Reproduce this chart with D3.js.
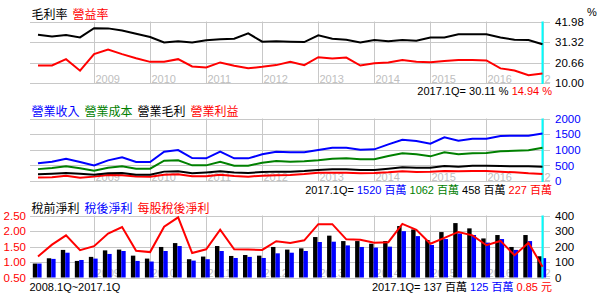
<!DOCTYPE html>
<html>
<head>
<meta charset="utf-8">
<script src="https://cdn.jsdelivr.net/npm/d3@7"></script>
<style>
  body { margin: 0; background: #fff; }
  svg text { font-family: "Liberation Sans", "Noto Sans CJK TC", sans-serif; }
</style>
</head>
<body>
<div id="chart"></div>
<script>
// quarters 2008.1Q ~ 2017.1Q
const years = [2008, 2009, 2010, 2011, 2012, 2013, 2014, 2015, 2016, 2017];
const quarters = years.flatMap((y) => [1, 2, 3, 4].map((q) => y + "." + q + "Q")).slice(0, 37);

// 毛利率 / 營益率 (%)
const grossMargin = [35.1, 34.2, 34.9, 33.7, 38.5, 38.4, 37.3, 35.6, 33.9, 31.1, 31.7, 31.1, 32.2, 32.7, 33.0, 35.8, 31.5, 31.7, 31.5,
  31.3, 34.8, 33.0, 32.5, 31.1, 32.3, 31.7, 32.3, 32.0, 33.6, 33.7, 35.3, 35.4, 35.3, 33.7, 32.5, 32.3, 30.11];
const opMargin = [19.1, 19.1, 22.4, 16.4, 25.0, 27.4, 25.0, 22.9, 21.0, 21.0, 22.4, 18.6, 18.1, 20.7, 19.0, 17.7, 18.4, 19.3, 21.0,
  19.3, 23.4, 22.7, 23.2, 19.1, 20.3, 20.7, 22.0, 21.0, 20.8, 21.5, 21.9, 21.9, 21.7, 17.6, 16.5, 14.0, 14.94];

// 營業收入 / 營業成本 / 營業毛利 / 營業利益 (百萬)
const revenue = [565, 618, 714, 608, 500, 661, 757, 608, 608, 938, 991, 735, 725, 938, 725, 725, 853, 938, 917,
  917, 991, 1066, 1066, 1002, 1013, 1173, 1322, 1279, 1194, 1396, 1290, 1354, 1354, 1439, 1450, 1450, 1520];
const cost = [380, 416, 469, 405, 330, 426, 469, 394, 394, 650, 661, 501, 501, 618, 490, 490, 586, 640, 618,
  629, 661, 714, 725, 693, 693, 800, 885, 853, 789, 917, 853, 885, 895, 949, 970, 981, 1062];
const grossProfit = [215, 235, 256, 235, 203, 245, 256, 200, 200, 300, 309, 245, 275, 309, 275, 256, 290, 300, 300,
  320, 352, 373, 373, 352, 352, 394, 437, 426, 426, 480, 458, 490, 490, 480, 469, 469, 458];
const opIncome = [110, 120, 165, 105, 140, 195, 185, 145, 140, 200, 213, 150, 150, 200, 160, 140, 170, 185, 195,
  224, 266, 266, 266, 245, 256, 277, 309, 288, 298, 320, 309, 320, 320, 298, 277, 245, 227];

// 稅前淨利 / 稅後淨利 (百萬), 每股稅後淨利 (元)
const preTax = [90, 124, 178, 107, 133, 175, 180, 141, 122, 197, 222, 118, 135, 203, 139, 145, 141, 197, 180,
  188, 261, 270, 235, 235, 218, 235, 332, 310, 242, 293, 351, 317, 252, 274, 197, 274, 137];
const afterTax = [90, 120, 160, 113, 122, 152, 171, 107, 103, 171, 203, 109, 118, 171, 126, 133, 126, 156, 160,
  171, 229, 231, 207, 197, 193, 199, 299, 267, 210, 248, 284, 274, 225, 248, 178, 235, 125];
const eps = [1.18, 1.56, 1.86, 1.38, 1.51, 1.92, 2.13, 1.36, 1.32, 2.14, 2.44, 1.29, 1.41, 2.04, 1.41, 1.40, 1.39, 1.67, 1.61,
  1.70, 2.22, 2.22, 1.73, 1.72, 1.62, 1.64, 2.23, 2.04, 1.59, 1.78, 1.97, 1.86, 1.54, 1.68, 1.22, 1.62, 0.85];

const marginTicks = [10, 20.66, 31.32, 41.98];
const amountTicks = [0, 500, 1000, 1500, 2000];
const netTicks = [0, 100, 200, 300, 400];
const epsTicks = [0.5, 1.0, 1.5, 2.0, 2.5];

const width = 600, height = 296;
const plotLeft = 30, plotRight = 550;
const gridColor = "#c8c8c8";

const svg = d3.select("#chart").append("svg").attr("width", width).attr("height", height);

const x = d3.scalePoint().domain(quarters).range([38, 542.5]);
const last = quarters[quarters.length - 1];
const yearStarts = quarters.filter((q) => q.endsWith(".1Q") && q !== quarters[0]);

function panel(id, top, bottom, domain, ticks, fmt) {
  const y = d3.scaleLinear().domain(domain).range([bottom, top]);
  const g = svg.append("g");

  // grid
  g.selectAll(".hg").data(ticks).enter().append("line")
    .attr("x1", plotLeft).attr("x2", plotRight)
    .attr("y1", (d) => Math.round(y(d)) + 0.5).attr("y2", (d) => Math.round(y(d)) + 0.5)
    .attr("stroke", gridColor);
  g.selectAll(".vg").data(yearStarts).enter().append("line")
    .attr("x1", (d) => Math.round(x(d)) + 0.5).attr("x2", (d) => Math.round(x(d)) + 0.5)
    .attr("y1", top).attr("y2", bottom)
    .attr("stroke", gridColor);

  // year labels, cut off at the right edge of the plot
  g.append("g")
    .selectAll("text").data(yearStarts).enter().append("text")
    .attr("x", (d) => Math.round(x(d)) + 1.5).attr("y", bottom - 0.5)
    .attr("font-size", 11).attr("fill", "#c0c0c0")
    .text((d) => d.slice(0, 4))
    .each(function () {
      const t = d3.select(this);
      let s = t.text();
      while (s.length > 1 && +t.attr("x") + this.getComputedTextLength() > plotRight - 1) {
        s = s.slice(0, -1);
        t.text(s);
      }
    });

  // right axis
  const ax = g.append("g").attr("transform", `translate(${plotRight},0)`)
    .call(d3.axisRight(y).tickValues(ticks).tickSize(0).tickPadding(5).tickFormat(fmt));
  ax.select(".domain").remove();
  ax.selectAll("text").attr("font-size", 11.5).attr("fill", id === "mid" ? "#0000ff" : "#000")
    .style("font-family", "'Liberation Sans', sans-serif");

  return { y, g, top, bottom };
}

function addLine(p, y, values, color) {
  p.g.append("path")
    .datum(values)
    .attr("fill", "none")
    .attr("stroke", color)
    .attr("stroke-width", 2)
    .attr("d", d3.line().x((d, i) => x(quarters[i])).y((d) => y(d)));
}

function cursor(p) {
  p.g.append("line")
    .attr("x1", x(last)).attr("x2", x(last))
    .attr("y1", p.top).attr("y2", p.bottom + 1)
    .attr("stroke", "#00ffff").attr("stroke-width", 2);
}

function legend(yPos, items, size) {
  let cx = 31.5;
  items.forEach(([label, color]) => {
    const t = svg.append("text").attr("x", cx).attr("y", yPos)
      .attr("font-size", size).attr("fill", color)
      .style("font-family", "'Noto Sans CJK TC', sans-serif").text(label);
    cx += t.node().getComputedTextLength() + 5;
  });
}

function footer(yPos, parts) {
  const t = svg.append("text").attr("x", 552).attr("y", yPos)
    .attr("text-anchor", "end").attr("font-size", 11);
  parts.forEach(([s, color]) => {
    t.append("tspan").attr("fill", color).text(s);
  });
}

// ---- 毛利率 / 營益率
const p1 = panel("top", 21.5, 83, [10, 41.98], marginTicks, d3.format(".2f"));
cursor(p1);
addLine(p1, p1.y, grossMargin, "#000");
addLine(p1, p1.y, opMargin, "#ff0000");
legend(18.5, [["毛利率", "#000"], ["營益率", "#ff0000"]], 12);
svg.append("text").attr("x", 587).attr("y", 15.5).attr("font-size", 11).text("%");
footer(94.5, [["2017.1Q= " + grossMargin[36].toFixed(2) + " % ", "#000"], [" " + opMargin[36].toFixed(2) + " %", "#ff0000"]]);

// ---- 營業收入 / 成本 / 毛利 / 利益
const p2 = panel("mid", 118.5, 181, [0, 2000], amountTicks, d3.format("d"));
cursor(p2);
addLine(p2, p2.y, opIncome, "#ff0000");
addLine(p2, p2.y, grossProfit, "#000");
addLine(p2, p2.y, cost, "#008000");
addLine(p2, p2.y, revenue, "#0000ff");
legend(115.5, [["營業收入", "#0000ff"], ["營業成本", "#008000"], ["營業毛利", "#000"], ["營業利益", "#ff0000"]], 12);
footer(194, [["2017.1Q= ", "#000"], [revenue[36] + " 百萬 ", "#0000ff"], [cost[36] + " 百萬 ", "#008000"],
  [grossProfit[36] + " 百萬 ", "#000"], [opIncome[36] + " 百萬", "#ff0000"]]);

// ---- 稅前淨利 / 稅後淨利 / 每股稅後淨利
const p3 = panel("bot", 215.5, 277.5, [0, 400], netTicks, d3.format("d"));
const yEps = d3.scaleLinear().domain([0.5, 2.5]).range([277.5, 215.5]);
const axL = p3.g.append("g").attr("transform", `translate(${plotLeft},0)`)
  .call(d3.axisLeft(yEps).tickValues(epsTicks).tickSize(0).tickPadding(4).tickFormat(d3.format(".2f")));
axL.select(".domain").remove();
axL.selectAll("text").attr("font-size", 11.5).attr("fill", "#ff0000");

const bw = 4.4;
p3.g.append("g").selectAll("rect").data(preTax).enter().append("rect")
  .attr("x", (d, i) => x(quarters[i]) - 5.2).attr("width", bw)
  .attr("y", (d) => p3.y(d)).attr("height", (d) => p3.y(0) - p3.y(d))
  .attr("fill", "#000");
p3.g.append("g").selectAll("rect").data(afterTax).enter().append("rect")
  .attr("x", (d, i) => x(quarters[i]) - 0.8).attr("width", bw)
  .attr("y", (d) => p3.y(d)).attr("height", (d) => p3.y(0) - p3.y(d))
  .attr("fill", "#0000ff");
cursor(p3);
addLine(p3, yEps, eps, "#ff0000");
legend(212.5, [["稅前淨利", "#000"], ["稅後淨利", "#0000ff"], ["每股稅後淨利", "#ff0000"]], 12);
svg.append("text").attr("x", 29.5).attr("y", 291).attr("font-size", 11)
  .text(quarters[0] + "~" + last);
footer(291, [["2017.1Q= " + preTax[36] + " 百萬 ", "#000"], [afterTax[36] + " 百萬 ", "#0000ff"], [eps[36].toFixed(2) + " 元", "#ff0000"]]);
</script>
</body>
</html>
